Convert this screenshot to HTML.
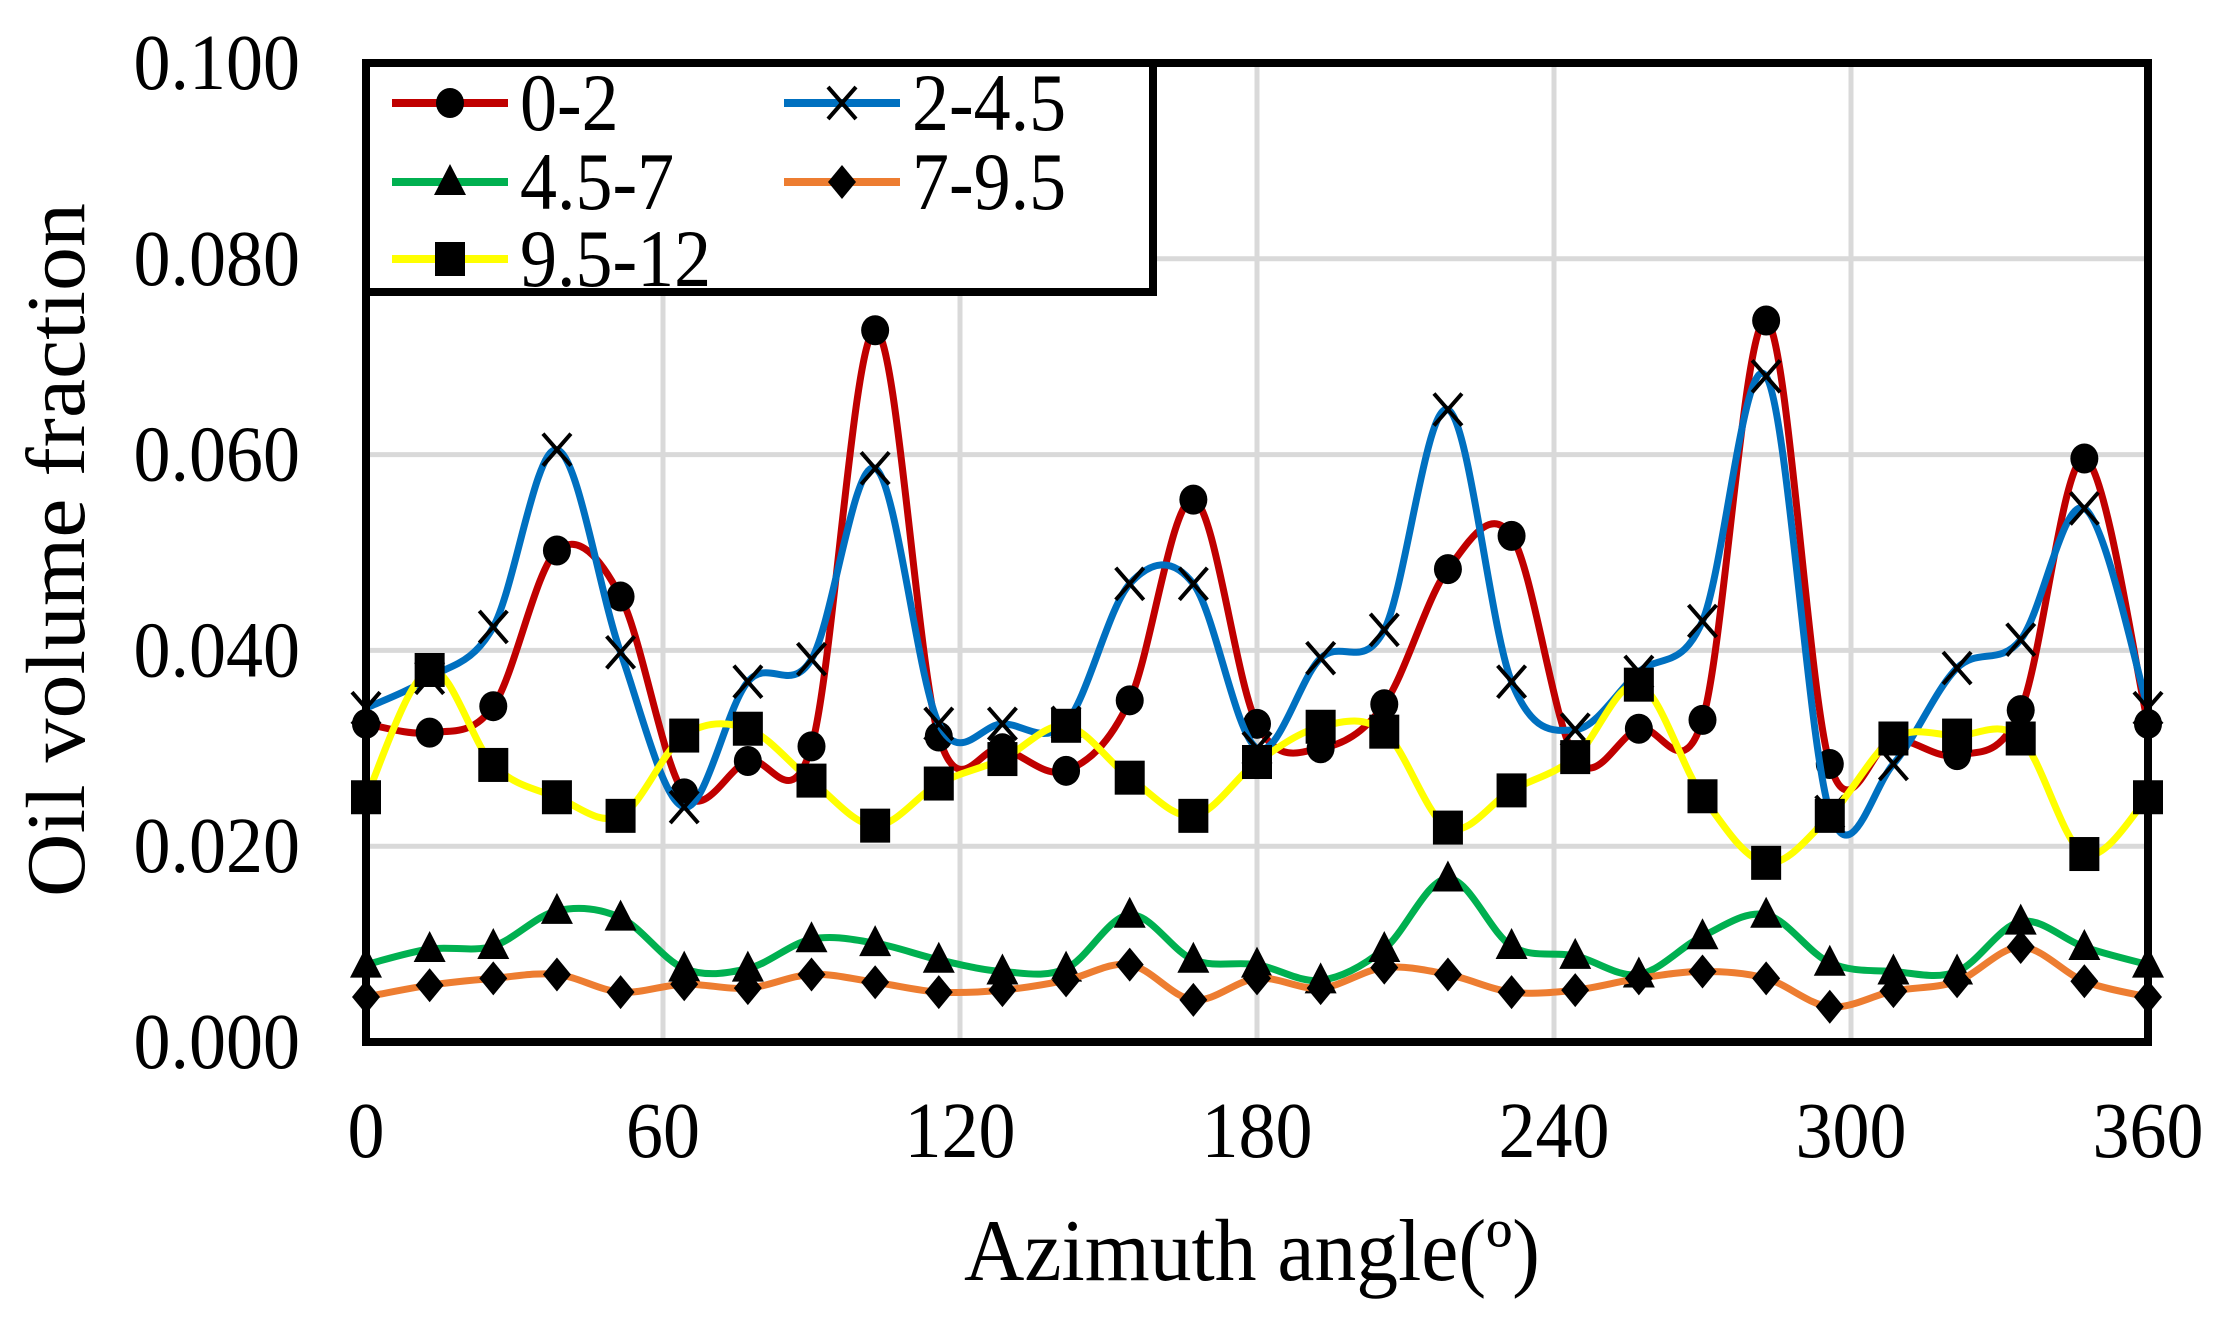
<!DOCTYPE html>
<html><head><meta charset="utf-8"><style>
html,body{margin:0;padding:0;background:#fff}
svg{display:block}
text{font-family:"Liberation Serif",serif;fill:#000}
</style></head><body>
<svg id="chart" width="2214" height="1322" viewBox="0 0 2214 1322" xmlns="http://www.w3.org/2000/svg">
<g id="grid"></g>
<g id="series"></g>
<g id="axes"></g>
<text transform="translate(84,550) rotate(-90) scale(1,0.95)" text-anchor="middle" font-size="88">Oil volume fraction</text>
<text transform="translate(1252,1280) scale(0.95,1)" text-anchor="middle" font-size="88">Azimuth angle(º)</text>
<g id="legend"></g>
</svg>
<script>
const angles = [];
for (let i = 0; i <= 28; i++) angles.push(i * 360 / 28);
const xTicks = [0, 60, 120, 180, 240, 300, 360];
const yTicks = [0, 0.02, 0.04, 0.06, 0.08, 0.1];
const yTickLabels = ["0.000", "0.020", "0.040", "0.060", "0.080", "0.100"];
const seriesNames = ["0-2", "2-4.5", "4.5-7", "7-9.5", "9.5-12"];
const s0_2 = [0.0325,0.0316,0.0343,0.0502,0.0455,0.0254,0.0287,0.0302,0.0727,0.0312,0.0300,0.0277,0.0349,0.0554,0.0325,0.0300,0.0345,0.0483,0.0517,0.0290,0.0320,0.0329,0.0737,0.0284,0.0309,0.0293,0.0339,0.0596,0.0325];
const s2_45 = [0.0341,0.0372,0.0424,0.0605,0.0398,0.0240,0.0368,0.0391,0.0586,0.0325,0.0325,0.0326,0.0468,0.0468,0.0300,0.0392,0.0421,0.0646,0.0368,0.0319,0.0378,0.0430,0.0680,0.0235,0.0284,0.0382,0.0411,0.0545,0.0341];
const s45_7 = [0.0079,0.0095,0.0098,0.0134,0.0127,0.0075,0.0075,0.0105,0.0101,0.0084,0.0072,0.0075,0.0130,0.0084,0.0079,0.0063,0.0095,0.0167,0.0098,0.0088,0.0069,0.0108,0.0130,0.0081,0.0072,0.0072,0.0123,0.0097,0.0079];
const s7_95 = [0.0046,0.0058,0.0065,0.0069,0.0051,0.0059,0.0055,0.0069,0.0061,0.0051,0.0053,0.0063,0.0079,0.0043,0.0065,0.0055,0.0076,0.0069,0.0051,0.0053,0.0065,0.0072,0.0065,0.0036,0.0052,0.0062,0.0097,0.0062,0.0046];
const s95_12 = [0.0250,0.0380,0.0283,0.0250,0.0231,0.0313,0.0320,0.0267,0.0221,0.0264,0.0289,0.0323,0.0270,0.0231,0.0286,0.0322,0.0317,0.0219,0.0257,0.0291,0.0365,0.0251,0.0183,0.0231,0.0310,0.0313,0.0310,0.0192,0.0250];

const NS = "http://www.w3.org/2000/svg";
const L = 366, R = 2148, T = 63, B = 1042;
const xs = v => L + (v / 360) * (R - L);
const ys = v => B - (v / 0.1) * (B - T);
function mk(tag, attrs, parent) {
  const e = document.createElementNS(NS, tag);
  for (const k in attrs) e.setAttribute(k, attrs[k]);
  parent.appendChild(e);
  return e;
}
const grid = document.getElementById('grid');
const axes = document.getElementById('axes');
const series = document.getElementById('series');
const legend = document.getElementById('legend');

yTicks.forEach((t, i) => {
  if (t > 0 && t < 0.1) {
    const g = mk('line', {x1: L, x2: R, y1: ys(t), y2: ys(t), stroke: '#d9d9d9', 'stroke-width': 5}, grid);
    
    
  }
  const tx = mk('text', {transform: `translate(300,${ys(t) + 26}) scale(1,1.08)`, 'text-anchor': 'end', 'font-size': 74}, axes);
  tx.textContent = yTickLabels[i];
  
  
});
xTicks.forEach(t => {
  if (t > 0 && t < 360) {
    const g = mk('line', {x1: xs(t), x2: xs(t), y1: T, y2: B, stroke: '#d9d9d9', 'stroke-width': 5}, grid);
    
    
  }
  const tx = mk('text', {transform: `translate(${xs(t)},1157) scale(1,1.08)`, 'text-anchor': 'middle', 'font-size': 74}, axes);
  tx.textContent = String(t);
  
  
});
const frame = mk('rect', {x: L, y: T, width: R - L, height: B - T, fill: 'none', stroke: '#000', 'stroke-width': 8}, axes);



function smoothPath(pts) {
  let d = `M${pts[0][0]},${pts[0][1]}`;
  for (let i = 0; i < pts.length - 1; i++) {
    const p0 = pts[i - 1] || pts[i], p1 = pts[i], p2 = pts[i + 1], p3 = pts[i + 2] || pts[i + 1];
    const t = 1 / 6;
    const c1 = [p1[0] + (p2[0] - p0[0]) * t, p1[1] + (p2[1] - p0[1]) * t];
    const c2 = [p2[0] - (p3[0] - p1[0]) * t, p2[1] - (p3[1] - p1[1]) * t];
    d += ` C${c1[0]},${c1[1]} ${c2[0]},${c2[1]} ${p2[0]},${p2[1]}`;
  }
  return d;
}
function marker(type, x, y, parent) {
  let e;
  if (type === 'circle') e = mk('ellipse', {cx: x, cy: y, rx: 14, ry: 15, fill: '#000'}, parent);
  else if (type === 'x') {
    e = mk('path', {d: `M${x-14},${y-16}L${x+14},${y+16}M${x-14},${y+16}L${x+14},${y-16}`, stroke: '#000', 'stroke-width': 4, fill: 'none'}, parent);
  }
  else if (type === 'tri') e = mk('path', {d: `M${x},${y-18}L${x+16},${y+13}L${x-16},${y+13}Z`, fill: '#000'}, parent);
  else if (type === 'dia') e = mk('path', {d: `M${x},${y-17}L${x+14},${y}L${x},${y+17}L${x-14},${y}Z`, fill: '#000'}, parent);
  else e = mk('rect', {x: x - 15, y: y - 17, width: 30, height: 34, fill: '#000'}, parent);
  return e;
}
const defs = [
  {vals: s0_2, color: '#c00000', m: 'circle', name: 'series-0-2'},
  {vals: s2_45, color: '#0070c0', m: 'x', name: 'series-2-4-5'},
  {vals: s45_7, color: '#00b050', m: 'tri', name: 'series-4-5-7'},
  {vals: s7_95, color: '#ed7d31', m: 'dia', name: 'series-7-9-5'},
  {vals: s95_12, color: '#ffff00', m: 'sq', name: 'series-9-5-12'}
];
defs.forEach(s => {
  const g = mk('g', {}, series);
  
  
  const pts = s.vals.map((v, i) => [xs(angles[i]), ys(v)]);
  const p = mk('path', {d: smoothPath(pts), fill: 'none', stroke: s.color, 'stroke-width': 7, 'stroke-linejoin': 'round'}, g);
  
  
  pts.forEach(pt => {
    const m = marker(s.m, pt[0], pt[1], g);
    
    
  });
});

// legend
const lbg = mk('rect', {x: L, y: T, width: 1153 - L, height: 292 - T, fill: '#fff', stroke: '#000', 'stroke-width': 8}, legend);


const lpos = [[392, 103], [784, 103], [392, 182], [784, 182], [392, 259]];
defs.forEach((s, i) => {
  const [lx, ly] = lpos[i];
  const g = mk('g', {}, legend);
  
  
  mk('line', {x1: lx, x2: lx + 116, y1: ly, y2: ly, stroke: s.color, 'stroke-width': 8}, g);
  marker(s.m, lx + 58, ly, g);
  const t = mk('text', {transform: `translate(${lx + 128},${ly + 27}) scale(1,1.1)`, 'font-size': 74}, g);
  t.textContent = seriesNames[i];
});
</script>
</body></html>
